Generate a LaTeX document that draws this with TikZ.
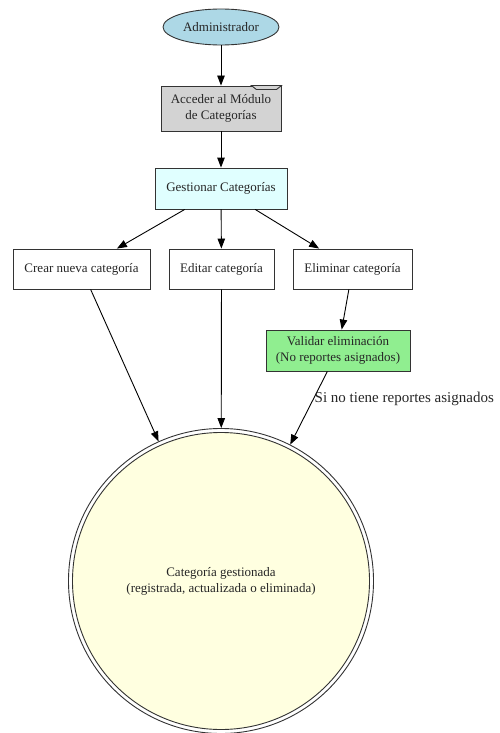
\documentclass[tikz,border=0pt]{standalone}
\usepackage{fontspec}
\setmainfont{Liberation Serif}
\usetikzlibrary{arrows.meta,shapes.geometric}

\definecolor{adminblue}{HTML}{ADD8E6}
\definecolor{accessgray}{HTML}{D3D3D3}
\definecolor{manageCyan}{HTML}{E0FFFF}
\definecolor{checkgreen}{HTML}{90EE90}
\definecolor{doneyellow}{HTML}{FFFFE0}
\definecolor{edgegray}{HTML}{333333}

\tikzset{
  base/.style={draw=edgegray, line width=0.9pt, align=center, inner sep=0pt,
    font=\fontsize{13}{16}\selectfont, text=black!85},
  taskbox/.style={base, rectangle, minimum height=40pt},
  flow/.style={draw=black, line width=0.9pt, -{Triangle[length=10pt,width=7.5pt]}},
  edgelabel/.style={font=\fontsize{15}{18}\selectfont, text=black!85}
}

\begin{document}
\begin{tikzpicture}[x=1pt,y=-1pt]
  \useasboundingbox (0,0) rectangle (499,733);

  % start actor
  \node[base, ellipse, fill=adminblue, minimum width=116pt, minimum height=36pt]
    (admin) at (221,27) {Administrador};

  % folder-shaped access step
  \node[taskbox, fill=accessgray, minimum width=120pt, minimum height=45pt]
    (acceder) at (221,108.5) {Acceder al Módulo\\de Categorías};
  \draw[draw=edgegray, line width=0.9pt, fill=accessgray]
    ([xshift=-30pt]acceder.north east) -- ++(5pt,-4pt) -- ++(20pt,0)
    -- ([xshift=0pt]acceder.north east) -- cycle;

  % management hub
  \node[taskbox, fill=manageCyan, minimum width=132pt, minimum height=41pt]
    (gestionar) at (221,188.5) {Gestionar Categorías};

  % the three actions
  \node[taskbox, fill=white, minimum width=137pt] (crear)    at (81.5,269)  {Crear nueva categoría};
  \node[taskbox, fill=white, minimum width=105pt] (editar)   at (221.5,269) {Editar categoría};
  \node[taskbox, fill=white, minimum width=119pt] (eliminar) at (352.5,269) {Eliminar categoría};

  % deletion check
  \node[taskbox, fill=checkgreen, minimum width=144pt, minimum height=41pt]
    (validar) at (338,350.5) {Validar eliminación\\(No reportes asignados)};

  % final state: double circle
  \node[base, circle, fill=white, minimum size=305pt] (fin) at (221,581) {};
  \fill[doneyellow, draw=edgegray, line width=0.9pt] (fin.center) circle (148.5pt);
  \node[align=center, font=\fontsize{13}{16}\selectfont, text=black!85] (finlabel) at (fin.center)
    {Categoría gestionada\\(registrada, actualizada o eliminada)};

  % connectors
  \draw[flow] (admin) -- (acceder);
  \draw[flow] (acceder) -- (gestionar);
  \draw[flow] (gestionar) -- (crear);
  \draw[flow] (gestionar) -- (editar);
  \draw[flow] (gestionar) -- (eliminar);
  \draw[flow] (eliminar) -- (validar);
  \draw[flow] (crear) -- (fin);
  \draw[flow] (editar) -- (fin);
  \draw[flow] (validar) -- node[pos=0.38, anchor=west, edgelabel, inner sep=1pt]
    {Si no tiene reportes asignados} (fin);
\end{tikzpicture}
\end{document}
